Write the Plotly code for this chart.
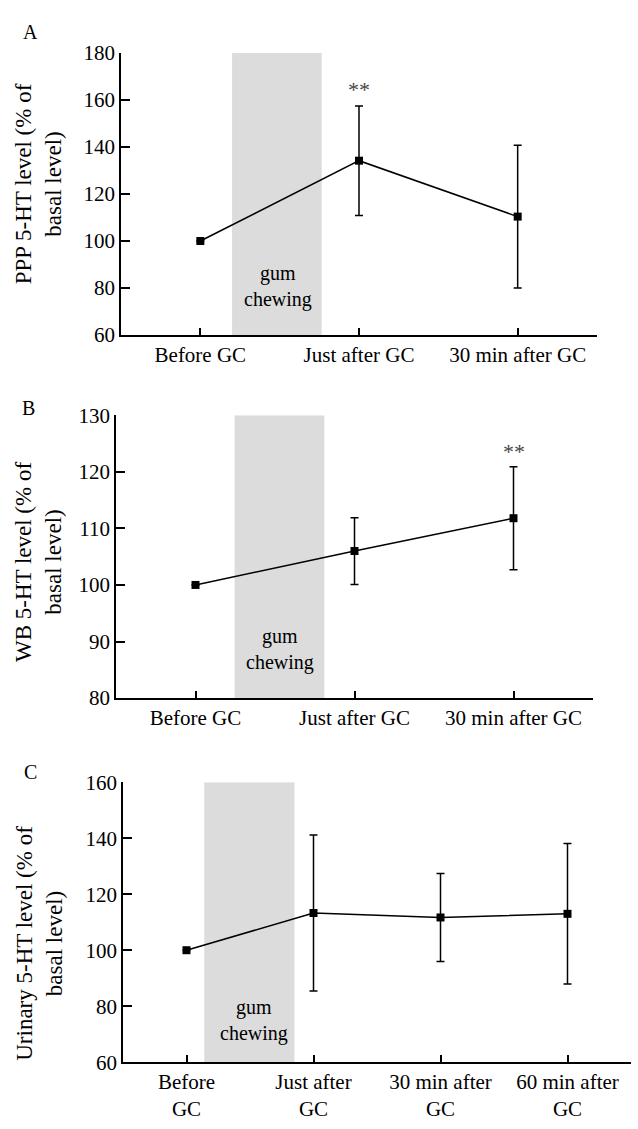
import plotly.graph_objects as go

W, H = 638, 1129

# ---- data ----
cats_A = ["Before GC", "Just after GC", "30 min after GC"]
mean_A = [100, 134.2, 110.4]
sd_A = [0, 23.3, 30.4]

cats_B = ["Before GC", "Just after GC", "30 min after GC"]
mean_B = [100, 106.0, 111.8]
sd_B = [0, 5.9, 9.1]

cats_C = ["Before<br>GC", "Just after<br>GC", "30 min after<br>GC", "60 min after<br>GC"]
mean_C = [100, 113.3, 111.7, 113.0]
sd_C = [0, 27.9, 15.7, 25.1]

ytitles = ["PPP 5-HT level (% of<br>basal level)",
           "WB 5-HT level (% of<br>basal level)",
           "Urinary 5-HT level (% of<br>basal level)"]
panel_letters = ["A", "B", "C"]
yranges = [[60, 180], [80, 130], [60, 160]]
ydticks = [20, 10, 20]
gum_band = [[0.2, 0.765], [0.246, 0.81], [0.14, 0.85]]
star_pos = [(1, 164.3), (2, 123.6), None]

# ---- layout in pixels: (left, right, top, bottom) ----
boxes = [(121, 597, 42, 330), (116, 593, 412, 701), (123, 631, 787, 1073)]
title_pos = [(38, 176), (38, 562), (40, 952)]
letter_pos = [(30, 20), (28, 405), (30, 777)]
gum_pos = [(278, 280), (280, 651), (254, 1030)]

FONT = "Liberation Serif, Times New Roman, serif"

fig = go.Figure()
datasets = [(cats_A, mean_A, sd_A), (cats_B, mean_B, sd_B), (cats_C, mean_C, sd_C)]

shapes = []
annotations = []
for i, (cats, mean, sd) in enumerate(datasets):
    n = i + 1
    xa = "x" if n == 1 else f"x{n}"
    ya = "y" if n == 1 else f"y{n}"
    xs = list(range(len(cats)))
    fig.add_trace(go.Scatter(
        x=xs, y=mean, mode="lines+markers", xaxis=xa, yaxis=ya,
        line=dict(color="black", width=1.5),
        marker=dict(symbol="square", size=8, color="black"),
        error_y=dict(type="data", array=sd, visible=True, color="black",
                     thickness=1.5, width=4),
        showlegend=False, hoverinfo="skip", cliponaxis=False))
    l, r, t, b = boxes[i]
    xdom = [l / W, r / W]
    ydom = [(H - b) / H, (H - t) / H]
    axx = dict(domain=xdom, anchor=ya, range=[-0.5, len(cats) - 0.5],
               tickmode="array", tickvals=xs, ticktext=cats,
               ticks="inside", ticklen=7, tickwidth=1.5, tickcolor="black",
               showline=True, linecolor="black", linewidth=1.5,
               showgrid=False, zeroline=False,
               tickfont=dict(family=FONT, size=21, color="black"))
    axy = dict(domain=ydom, anchor=xa, range=yranges[i], dtick=ydticks[i],
               ticks="inside", ticklen=9, tickwidth=1.5, tickcolor="black",
               showline=True, linecolor="black", linewidth=1.5,
               showgrid=False, zeroline=False,
               tickfont=dict(family=FONT, size=21, color="black"))
    fig.update_layout(**{("xaxis" if n == 1 else f"xaxis{n}"): axx,
                         ("yaxis" if n == 1 else f"yaxis{n}"): axy})
    x0, x1 = gum_band[i]
    shapes.append(dict(type="rect", xref=xa, yref=ya, x0=x0, x1=x1,
                       y0=yranges[i][0], y1=yranges[i][1],
                       fillcolor="#dcdcdc", line=dict(width=0), layer="below"))
    tx, ty = title_pos[i]
    annotations.append(dict(text=ytitles[i], xref="paper", yref="paper",
                            x=tx / W, y=(H - ty) / H, textangle=-90,
                            showarrow=False, xanchor="center", yanchor="middle",
                            font=dict(family=FONT, size=23, color="black")))
    lx, ly = letter_pos[i]
    annotations.append(dict(text=panel_letters[i], xref="paper", yref="paper",
                            x=lx / W, y=(H - ly) / H, showarrow=False,
                            xanchor="center", yanchor="middle",
                            font=dict(family=FONT, size=20, color="black")))
    gx, gy = gum_pos[i]
    annotations.append(dict(text="gum<br>chewing", xref="paper", yref="paper",
                            x=gx / W, y=(H - gy) / H, showarrow=False,
                            xanchor="center", yanchor="middle",
                            font=dict(family=FONT, size=20, color="black")))
    if star_pos[i] is not None:
        sx, sy = star_pos[i]
        annotations.append(dict(text="**", xref=xa, yref=ya, x=sx, y=sy,
                                showarrow=False, xanchor="center", yanchor="middle",
                                font=dict(family=FONT, size=22, color="#444444")))

fig.update_layout(width=W, height=H, margin=dict(l=0, r=0, t=0, b=0),
                  paper_bgcolor="white", plot_bgcolor="white",
                  shapes=shapes, annotations=annotations,
                  font=dict(family=FONT, color="black"))

fig.write_html("out.html")
